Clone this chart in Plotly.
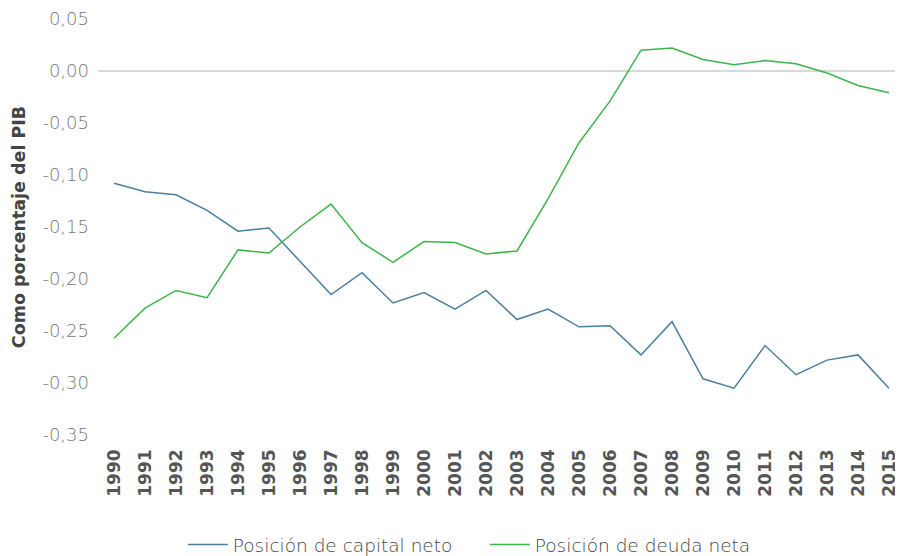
import plotly.graph_objects as go

years = list(range(1990, 2016))
capital_neto = [-0.108, -0.116, -0.119, -0.134, -0.154, -0.151, -0.183, -0.215, -0.194, -0.223,
                -0.213, -0.229, -0.211, -0.239, -0.229, -0.246, -0.245, -0.273, -0.241, -0.296,
                -0.305, -0.264, -0.292, -0.278, -0.273, -0.305]
deuda_neta = [-0.257, -0.228, -0.211, -0.218, -0.172, -0.175, -0.150, -0.128, -0.165, -0.184,
              -0.164, -0.165, -0.176, -0.173, -0.123, -0.069, -0.029, 0.020, 0.022, 0.011,
              0.006, 0.010, 0.007, -0.002, -0.014, -0.021]
y_ticks = [0.05, 0.0, -0.05, -0.10, -0.15, -0.20, -0.25, -0.30, -0.35]
y_labels = ["0,05", "0,00", "-0,05", "-0,10", "-0,15", "-0,20", "-0,25", "-0,30", "-0,35"]

fig = go.Figure()
fig.add_trace(go.Scatter(x=years, y=capital_neto, mode="lines", name="Posición de capital neto",
                         line=dict(color="#4a7fa0", width=1.5)))
fig.add_trace(go.Scatter(x=years, y=deuda_neta, mode="lines", name="Posición de deuda neta",
                         line=dict(color="#3db54a", width=1.5)))

fig.update_layout(
    width=903, height=580,
    margin=dict(l=90, r=13, t=11, b=153),
    paper_bgcolor="white", plot_bgcolor="white",
    font=dict(family="DejaVu Sans", color="#666"),
    showlegend=True,
    legend=dict(orientation="h", x=0.106, xanchor="left", y=-0.2188, yanchor="top",
                font=dict(size=18.5, color="#444", family="DejaVu Sans", weight=200),
                itemwidth=40, entrywidth=247, traceorder="normal"),
    xaxis=dict(range=[1989.484, 2015.29], tickmode="array", tickvals=years,
               ticktext=[str(y) for y in years], tickangle=-90, showgrid=False,
               zeroline=False, showline=False, ticks="", automargin=False,
               ticklabelstandoff=10,
               tickfont=dict(size=17, color="#555", family="DejaVu Sans", weight="bold")),
    yaxis=dict(range=[-0.35, 0.05], tickmode="array", tickvals=y_ticks, ticktext=y_labels,
               showgrid=False, zeroline=True, zerolinecolor="#d9d9d9", zerolinewidth=2,
               showline=False, ticks="", ticklabelstandoff=8, automargin=False,
               tickfont=dict(size=18, color="#777", family="DejaVu Sans", weight=200),
               title=dict(text="Como porcentaje del PIB", standoff=12,
                          font=dict(size=17.5, color="#444", family="DejaVu Sans", weight="bold"))),
)

fig.write_html("out.html")
